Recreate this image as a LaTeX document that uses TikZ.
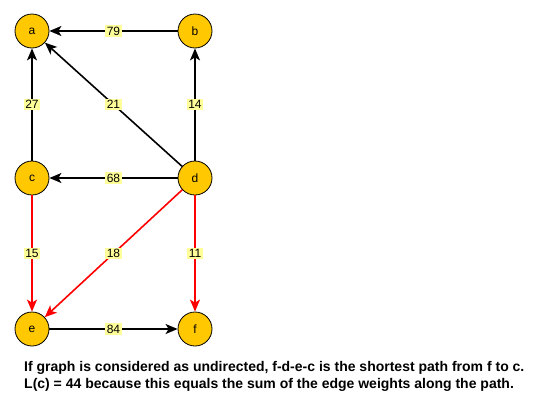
\documentclass[tikz,border=0pt]{standalone}
\usepackage{fontspec}
\setmainfont{Liberation Sans}
\usetikzlibrary{arrows.meta}

\begin{document}
\begin{tikzpicture}[x=1pt, y=-1pt,
    vertex/.style={circle, draw=borderColour, fill=fillColour, line width=0.8pt,
        minimum size=34pt, inner sep=0pt, font=\fontsize{12}{14}\selectfont},
    edge/.style={line width=1.6pt, -{Stealth[length=12pt, width=10pt, inset=3pt]}},
    weight/.style={fill=labelColour, inner sep=1.6pt, font=\fontsize{12}{14}\selectfont},
    note/.style={anchor=base west, inner sep=0pt, font=\bfseries\fontsize{14}{17}\selectfont}]
    \definecolor{borderColour}{HTML}{000000}
    \definecolor{fillColour}{HTML}{FFC800}
    \definecolor{labelColour}{HTML}{FFFF99}
    \definecolor{pathColour}{HTML}{FF0000}

    \useasboundingbox (0,0) rectangle (539,410);

    \node[vertex] (a) at (32,31) {a};
    \node[vertex] (b) at (195,31) {b};
    \node[vertex] (c) at (32,178) {c};
    \node[vertex] (d) at (195,178) {d};
    \node[vertex] (e) at (32,329) {e};
    \node[vertex] (f) at (195,329) {f};

    \foreach \from/\to/\w in {b/a/79, c/a/27, d/a/21, d/b/14, d/c/68, e/f/84}
        \draw[edge] (\from) -- node[weight] {\w} (\to);

    \foreach \from/\to/\w in {c/e/15, d/e/18, d/f/11}
        \draw[edge, draw=pathColour, fill=pathColour] (\from) -- node[weight] {\w} (\to);

    \node[note] (note1) at (24,371)
        {If graph is considered as undirected, f-d-e-c is the shortest path from f to c.};
    \node[note] (note2) at (24,388)
        {L(c) = 44 because this equals the sum of the edge weights along the path.};

\end{tikzpicture}
\end{document}
